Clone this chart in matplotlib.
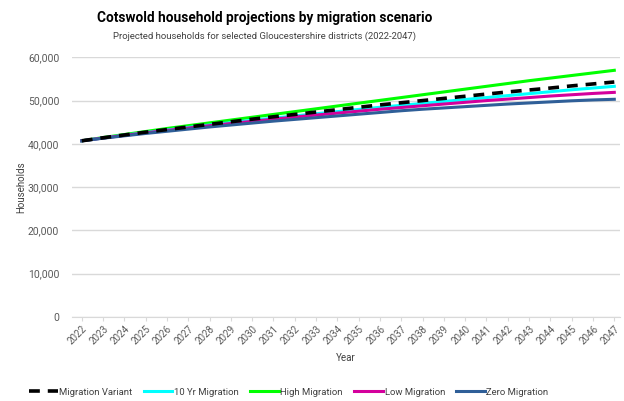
import numpy as np
import matplotlib.pyplot as plt
from matplotlib.ticker import FuncFormatter

plt.rcParams["font.family"] = ["Roboto", "DejaVu Sans"]

years = list(range(2022, 2048))

migration_variant = [40700, 41400, 42050, 42700, 43300, 43900, 44500, 45100, 45700, 46250,
                     46800, 47350, 47900, 48450, 49000, 49500, 50000, 50500, 51000, 51500,
                     52000, 52450, 52900, 53400, 53850, 54300]
ten_yr_migration = [40700, 41350, 42000, 42600, 43200, 43800, 44350, 44900, 45450, 45950,
                    46450, 46950, 47450, 47950, 48450, 48900, 49350, 49800, 50250, 50700,
                    51150, 51600, 52050, 52500, 52900, 53300]
high_migration = [40700, 41450, 42150, 42850, 43550, 44200, 44850, 45500, 46150, 46800,
                  47450, 48100, 48750, 49400, 50050, 50700, 51350, 52000, 52650, 53300,
                  53950, 54600, 55200, 55800, 56400, 57000]
low_migration = [40700, 41350, 41950, 42550, 43100, 43650, 44200, 44700, 45200, 45700,
                 46200, 46650, 47100, 47550, 48000, 48400, 48800, 49200, 49600, 50000,
                 50350, 50700, 51050, 51350, 51650, 51900]
zero_migration = [40700, 41300, 41850, 42400, 42900, 43400, 43900, 44350, 44800, 45250,
                  45650, 46050, 46450, 46850, 47250, 47650, 48000, 48300, 48600, 48900,
                  49200, 49450, 49700, 49950, 50150, 50300]

fig = plt.figure(figsize=(6.24, 4.01), dpi=100)
ax = fig.add_axes([0.115, 0.21, 0.879, 0.647])

lw = 2.2
ax.plot(years, migration_variant, color="black", lw=2.6, ls=(0, (3, 2.2)), label="Migration Variant", zorder=6)
ax.plot(years, ten_yr_migration, color="#00FFFF", lw=lw, label="10 Yr Migration", zorder=5)
ax.plot(years, high_migration, color="#00FF00", lw=lw, label="High Migration", zorder=4)
ax.plot(years, low_migration, color="#D4009C", lw=lw, label="Low Migration", zorder=5)
ax.plot(years, zero_migration, color="#2F5F98", lw=lw, label="Zero Migration", zorder=5)

ax.set_xlim(2021.53, 2047.28)
ax.set_ylim(0, 60000)
ax.set_yticks(np.arange(0, 60001, 10000))
ax.yaxis.set_major_formatter(FuncFormatter(lambda v, p: f"{int(v):,}"))
ax.set_xticks(years)
ax.set_xticklabels([str(y) for y in years], rotation=45, ha="right", rotation_mode="anchor")

ax.grid(axis="y", color="#D9D9D9", lw=1)
ax.set_axisbelow(True)
for s in ["top", "right", "left"]:
    ax.spines[s].set_visible(False)
ax.spines["bottom"].set_color("#D9D9D9")
ax.tick_params(axis="y", length=0, pad=9, labelsize=7.5, labelcolor="#595959")
ax.tick_params(axis="x", length=3, color="#D9D9D9", labelsize=7, labelcolor="#595959", pad=2)

ax.set_xlabel("Year", fontsize=7, color="#404040", labelpad=5)
ax.set_ylabel("Households", fontsize=7, color="#404040", labelpad=1)

fig.text(0.424, 0.955, "Cotswold household projections by migration scenario",
         ha="center", va="center", fontsize=9.8, fontweight="bold", color="black")
fig.text(0.424, 0.91, "Projected households for selected Gloucestershire districts (2022-2047)",
         ha="center", va="center", fontsize=6.8, color="#404040")

fig.legend(loc="center", bbox_to_anchor=(0.463, 0.022), ncol=5, frameon=False,
           fontsize=6.8, handlelength=3.0, columnspacing=1.2, handletextpad=0.2,
           labelcolor="#404040")

fig.savefig("out.png", dpi=100)
